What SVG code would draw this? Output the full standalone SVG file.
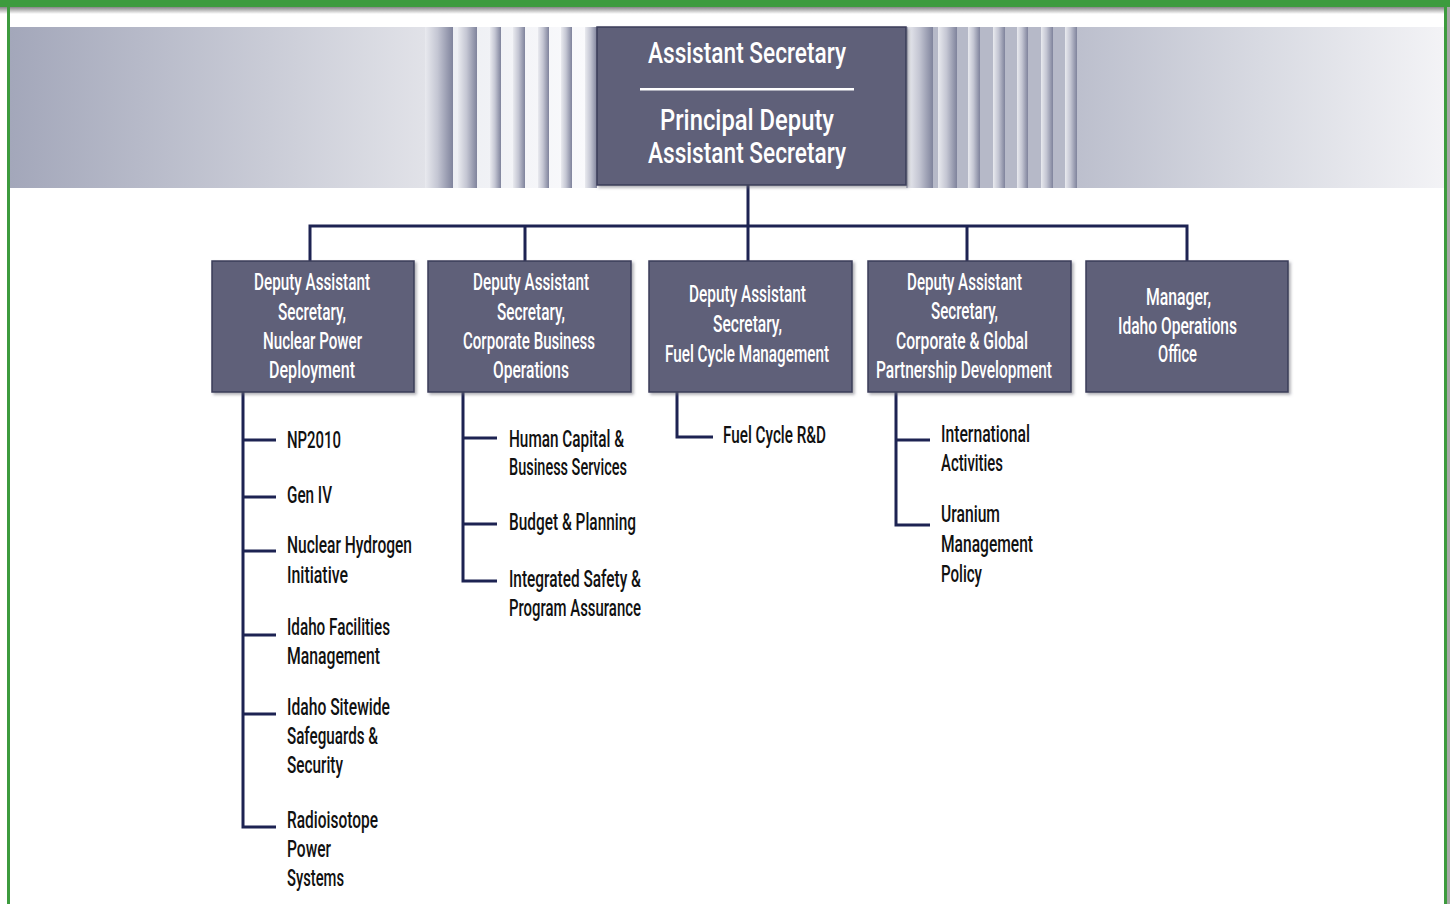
<svg xmlns="http://www.w3.org/2000/svg" width="1450" height="904" viewBox="0 0 1450 904">
<defs>
<linearGradient id="gLeft" x1="0" y1="0" x2="1" y2="0"><stop offset="0" stop-color="#a3a7ba"/><stop offset="1" stop-color="#e1e2e8"/></linearGradient>
<linearGradient id="gLeftGap" x1="0" y1="0" x2="1" y2="0"><stop offset="0" stop-color="#eaecf1"/><stop offset="1" stop-color="#fbfbfd"/></linearGradient>
<linearGradient id="gRight" x1="0" y1="0" x2="1" y2="0"><stop offset="0" stop-color="#bcbfcd"/><stop offset="0.5" stop-color="#d8dae2"/><stop offset="1" stop-color="#f3f3f6"/></linearGradient>
<linearGradient id="gStripe" x1="0" y1="0" x2="1" y2="0"><stop offset="0" stop-color="#e9eaef"/><stop offset="0.45" stop-color="#c4c6d3"/><stop offset="1" stop-color="#7f839c"/></linearGradient>
<linearGradient id="gShadowTop" x1="0" y1="0" x2="0" y2="1"><stop offset="0" stop-color="#858585"/><stop offset="1" stop-color="#ffffff"/></linearGradient>
<filter id="sh" x="-5%" y="-5%" width="115%" height="115%"><feDropShadow dx="2" dy="2" stdDeviation="1.5" flood-color="#6d6d78" flood-opacity="0.55"/></filter>
</defs>
<style>
.box{fill:#5f6079;stroke:#3a3c5a;stroke-width:1.5;filter:url(#sh)}
.bt{font-family:"Liberation Sans Narrow","Roboto","Liberation Sans",sans-serif;font-size:23px;font-weight:500;fill:#ffffff}
.tt{font-family:"Liberation Sans Narrow","Roboto","Liberation Sans",sans-serif;font-size:29px;font-weight:500;fill:#ffffff}
.it{font-family:"Liberation Sans Narrow","Roboto","Liberation Sans",sans-serif;font-size:23px;font-weight:500;fill:#111111}
.con{fill:none;stroke:#1d2352;stroke-width:3}
.stripe{fill:url(#gStripe)}
</style>
<rect x="0" y="0" width="1450" height="904" fill="#ffffff"/>
<!-- frame -->
<rect x="0" y="7" width="1450" height="7" fill="url(#gShadowTop)"/>
<rect x="0" y="0" width="1450" height="7" fill="#3d9b3e"/>
<rect x="7" y="0" width="3" height="904" fill="#3d9b3e"/>
<rect x="1444" y="0" width="3" height="904" fill="#3d9b3e"/>
<rect x="1447" y="7" width="3" height="897" fill="#a8a8a8"/>
<!-- header band -->
<g id="header">
<rect x="10" y="27" width="415" height="161" fill="url(#gLeft)"/>
<rect x="425" y="27" width="172" height="161" fill="url(#gLeftGap)"/>
<rect x="906" y="27" width="171" height="161" fill="#b6b9c8"/>
<rect x="1077" y="27" width="367" height="161" fill="url(#gRight)"/>
<rect class="stripe" x="425" y="27" width="28" height="161"/>
<rect class="stripe" x="458" y="27" width="19" height="161"/>
<rect class="stripe" x="490" y="27" width="11" height="161"/>
<rect class="stripe" x="513" y="27" width="12" height="161"/>
<rect class="stripe" x="538" y="27" width="11" height="161"/>
<rect class="stripe" x="561" y="27" width="11" height="161"/>
<rect class="stripe" x="585" y="27" width="12" height="161"/>
<rect class="stripe" x="908" y="27" width="25" height="161"/>
<rect class="stripe" x="938" y="27" width="19" height="161"/>
<rect class="stripe" x="968" y="27" width="12" height="161"/>
<rect class="stripe" x="993" y="27" width="12" height="161"/>
<rect class="stripe" x="1017" y="27" width="11" height="161"/>
<rect class="stripe" x="1041" y="27" width="12" height="161"/>
<rect class="stripe" x="1065" y="27" width="12" height="161"/>
</g>
<!-- connectors -->
<g id="connectors">
<path class="con" d="M748,185 V261 M310,226 H1187 M310,224.5 V261 M525,226 V261 M967,226 V261 M1187,224.5 V261"/>
<path class="con" d="M243,392 V827 H276 M243,440 H276 M243,497 H276 M243,551 H276 M243,635 H276 M243,714 H276"/>
<path class="con" d="M463,392 V581 H497 M463,438 H497 M463,524 H497"/>
<path class="con" d="M677,392 V437 H713"/>
<path class="con" d="M896,392 V525 H930 M896,440 H930"/>
</g>
<!-- top node -->
<g id="n-asst-sec">
<rect class="box" x="597" y="27" width="309" height="158"/>
<text class="tt" x="648" y="63" textLength="198" lengthAdjust="spacingAndGlyphs">Assistant Secretary</text>
<rect x="640" y="88" width="214" height="2.5" fill="#ffffff"/>
<text class="tt" x="660" y="130" textLength="174" lengthAdjust="spacingAndGlyphs">Principal Deputy</text>
<text class="tt" x="648" y="163" textLength="198" lengthAdjust="spacingAndGlyphs">Assistant Secretary</text>
</g>
<!-- second row -->
<g id="n-npd">
<rect class="box" x="212" y="261" width="202" height="131"/>
<text class="bt" x="254" y="290" textLength="116" lengthAdjust="spacingAndGlyphs">Deputy Assistant</text>
<text class="bt" x="278" y="320" textLength="68" lengthAdjust="spacingAndGlyphs">Secretary,</text>
<text class="bt" x="263" y="349" textLength="99" lengthAdjust="spacingAndGlyphs">Nuclear Power</text>
<text class="bt" x="269" y="378" textLength="86" lengthAdjust="spacingAndGlyphs">Deployment</text>
</g>
<g id="n-cbo">
<rect class="box" x="428" y="261" width="203" height="131"/>
<text class="bt" x="473" y="290" textLength="116" lengthAdjust="spacingAndGlyphs">Deputy Assistant</text>
<text class="bt" x="497" y="320" textLength="68" lengthAdjust="spacingAndGlyphs">Secretary,</text>
<text class="bt" x="463" y="349" textLength="132" lengthAdjust="spacingAndGlyphs">Corporate Business</text>
<text class="bt" x="493" y="378" textLength="76" lengthAdjust="spacingAndGlyphs">Operations</text>
</g>
<g id="n-fcm">
<rect class="box" x="649" y="261" width="203" height="131"/>
<text class="bt" x="689" y="302" textLength="117" lengthAdjust="spacingAndGlyphs">Deputy Assistant</text>
<text class="bt" x="713" y="332" textLength="69" lengthAdjust="spacingAndGlyphs">Secretary,</text>
<text class="bt" x="665" y="362" textLength="164" lengthAdjust="spacingAndGlyphs">Fuel Cycle Management</text>
</g>
<g id="n-cgpd">
<rect class="box" x="868" y="261" width="203" height="131"/>
<text class="bt" x="907" y="290" textLength="115" lengthAdjust="spacingAndGlyphs">Deputy Assistant</text>
<text class="bt" x="931" y="319" textLength="67" lengthAdjust="spacingAndGlyphs">Secretary,</text>
<text class="bt" x="896" y="349" textLength="132" lengthAdjust="spacingAndGlyphs">Corporate &amp; Global</text>
<text class="bt" x="876" y="378" textLength="176" lengthAdjust="spacingAndGlyphs">Partnership Development</text>
</g>
<g id="n-idaho">
<rect class="box" x="1086" y="261" width="202" height="131"/>
<text class="bt" x="1146" y="305" textLength="65" lengthAdjust="spacingAndGlyphs">Manager,</text>
<text class="bt" x="1118" y="334" textLength="119" lengthAdjust="spacingAndGlyphs">Idaho Operations</text>
<text class="bt" x="1158" y="362" textLength="39" lengthAdjust="spacingAndGlyphs">Office</text>
</g>
<!-- sub-items: Nuclear Power Deployment -->
<g id="i-np2010"><text class="it" x="287" y="448" textLength="54" lengthAdjust="spacingAndGlyphs">NP2010</text></g>
<g id="i-geniv"><text class="it" x="287" y="503" textLength="45" lengthAdjust="spacingAndGlyphs">Gen IV</text></g>
<g id="i-nhi"><text class="it" x="287" y="553" textLength="125" lengthAdjust="spacingAndGlyphs">Nuclear Hydrogen</text><text class="it" x="287" y="583" textLength="61" lengthAdjust="spacingAndGlyphs">Initiative</text></g>
<g id="i-ifm"><text class="it" x="287" y="635" textLength="103" lengthAdjust="spacingAndGlyphs">Idaho Facilities</text><text class="it" x="287" y="664" textLength="93" lengthAdjust="spacingAndGlyphs">Management</text></g>
<g id="i-iss"><text class="it" x="287" y="715" textLength="103" lengthAdjust="spacingAndGlyphs">Idaho Sitewide</text><text class="it" x="287" y="744" textLength="91" lengthAdjust="spacingAndGlyphs">Safeguards &amp;</text><text class="it" x="287" y="773" textLength="56" lengthAdjust="spacingAndGlyphs">Security</text></g>
<g id="i-rps"><text class="it" x="287" y="828" textLength="91" lengthAdjust="spacingAndGlyphs">Radioisotope</text><text class="it" x="287" y="857" textLength="44" lengthAdjust="spacingAndGlyphs">Power</text><text class="it" x="287" y="886" textLength="57" lengthAdjust="spacingAndGlyphs">Systems</text></g>
<!-- Corporate Business Operations -->
<g id="i-hc"><text class="it" x="509" y="447" textLength="115" lengthAdjust="spacingAndGlyphs">Human Capital &amp;</text><text class="it" x="509" y="475" textLength="118" lengthAdjust="spacingAndGlyphs">Business Services</text></g>
<g id="i-bp"><text class="it" x="509" y="530" textLength="127" lengthAdjust="spacingAndGlyphs">Budget &amp; Planning</text></g>
<g id="i-isp"><text class="it" x="509" y="587" textLength="132" lengthAdjust="spacingAndGlyphs">Integrated Safety &amp;</text><text class="it" x="509" y="616" textLength="132" lengthAdjust="spacingAndGlyphs">Program Assurance</text></g>
<!-- Fuel Cycle Management -->
<g id="i-fcrd"><text class="it" x="723" y="443" textLength="103" lengthAdjust="spacingAndGlyphs">Fuel Cycle R&amp;D</text></g>
<!-- Corporate & Global Partnership Development -->
<g id="i-ia"><text class="it" x="941" y="442" textLength="89" lengthAdjust="spacingAndGlyphs">International</text><text class="it" x="941" y="471" textLength="62" lengthAdjust="spacingAndGlyphs">Activities</text></g>
<g id="i-ump"><text class="it" x="941" y="522" textLength="59" lengthAdjust="spacingAndGlyphs">Uranium</text><text class="it" x="941" y="552" textLength="92" lengthAdjust="spacingAndGlyphs">Management</text><text class="it" x="941" y="582" textLength="41" lengthAdjust="spacingAndGlyphs">Policy</text></g>
</svg>
